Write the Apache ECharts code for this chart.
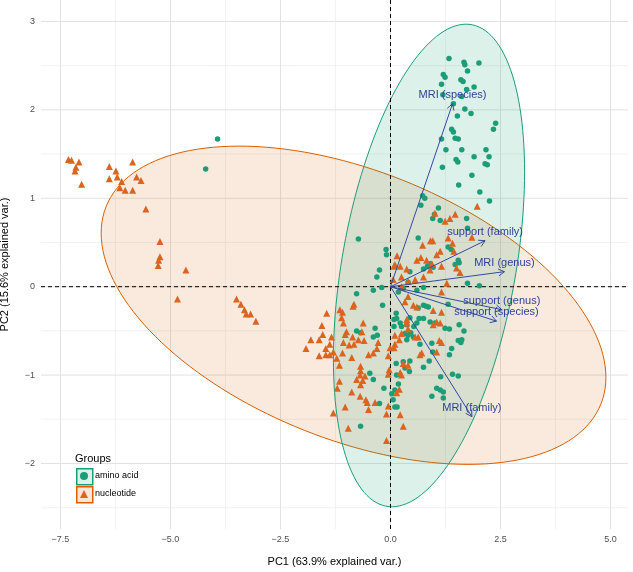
<!DOCTYPE html>
<html><head><meta charset="utf-8">
<script src="https://cdn.jsdelivr.net/npm/echarts@6/dist/echarts.min.js"></script>
<style>html,body{margin:0;padding:0;background:#fff}#chart{width:633px;height:572px}</style>
</head><body><div id="chart"></div>
<script>
// ---- data (PC1, PC2 scores) ----
const aminoAcid = [
[1.33,2.58],[1.67,2.54],[1.69,2.51],[2.01,2.53],[1.75,2.44],[1.20,2.40],[1.24,2.37],[1.60,2.34],[1.65,2.32],[1.16,2.29],[1.90,2.26],[1.73,2.23],[1.19,2.17],[1.62,2.15],[1.43,2.07],[1.69,2.01],[1.83,1.96],[1.52,1.93],[2.39,1.85],[2.34,1.78],[1.39,1.78],[1.43,1.75],[1.47,1.68],[1.54,1.67],[1.16,1.67],[1.26,1.55],[1.62,1.55],[2.17,1.55],[1.90,1.47],[2.24,1.47],[1.49,1.44],[1.53,1.41],[2.15,1.39],[2.20,1.38],[1.18,1.35],[1.85,1.26],[1.55,1.15],[2.03,1.07],[2.25,0.97],[0.78,1.00],[0.73,1.03],[0.69,0.92],[1.09,0.89],
[1.00,0.82],[0.96,0.77],[1.13,0.75],[1.73,0.77],[1.75,0.66],[0.63,0.55],[1.31,0.45],[1.38,0.42],[1.54,0.30],[1.56,0.27],[1.47,0.25],[0.84,0.23],[0.90,0.26],[0.97,0.22],[0.44,0.17],[0.75,0.20],[1.75,0.04],[2.02,0.01],[0.40,0.05],[0.29,-0.02],[0.60,-0.04],[0.75,-0.01],[0.18,-0.06],
[-0.73,0.54],[-0.10,0.42],[-0.09,0.36],[-0.25,0.19],[-0.31,0.11],[-0.39,-0.04],[-0.20,-0.01],[-0.77,-0.08],
[-3.93,1.67],[-4.20,1.33],
[-0.18,-0.21],[-0.35,-0.47],[-0.39,-0.57],[-0.30,-0.55],[-0.77,-0.50],[-0.68,-0.52],[-0.47,-0.98],[-0.39,-1.05],[-0.15,-1.15],[-0.25,-1.32],[-0.68,-1.58],[0.13,-0.30],[0.14,-0.36],[0.22,-0.41],[0.25,-0.45],[0.33,-0.53],[0.40,-0.55],[0.46,-0.52],[0.13,-0.87],[0.29,-0.85],[0.33,-0.92],[0.43,-0.96],[0.14,-1.00],[0.18,-1.10],[0.06,-1.28],[0.10,-1.36],[0.15,-1.36],[0.03,-1.21],[0.37,-0.60],[0.53,-0.45],
[0.75,-0.21],[0.81,-0.22],[0.86,-0.23],[0.63,-0.24],[1.31,-0.20],[0.44,-0.35],[0.65,-0.36],[0.75,-0.36],[0.90,-0.40],[1.01,-0.41],[0.37,-0.43],[0.60,-0.41],[1.24,-0.47],[1.34,-0.48],[1.56,-0.43],[1.67,-0.50],[0.52,-0.57],[0.67,-0.65],[0.94,-0.64],[1.62,-0.60],[1.60,-0.63],[1.54,-0.61],[1.39,-0.70],[1.34,-0.77],[0.96,-0.74],[0.88,-0.84],[0.44,-0.84],[0.75,-0.91],[1.41,-0.99],[1.54,-1.01],[1.14,-1.02],[1.05,-1.15],[1.13,-1.17],[1.20,-1.19],[0.94,-1.24],[1.20,-1.26],[0.10,-1.17],[0.08,-0.37],[0.08,-0.45]
];
const nucleotide = [
[-7.32,1.44],[-7.25,1.43],[-7.08,1.41],[-7.15,1.35],[-7.17,1.31],[-7.02,1.16],[-6.39,1.36],[-6.24,1.31],[-6.39,1.22],[-6.21,1.24],[-5.86,1.41],[-5.77,1.24],[-5.67,1.20],[-6.11,1.19],[-6.15,1.12],[-6.03,1.09],[-5.86,1.09],[-5.56,0.88],[-5.24,0.51],[-5.24,0.34],[-5.27,0.30],[-5.28,0.24],[-4.65,0.19],[-4.84,-0.14],[-3.50,-0.14],[-3.40,-0.20],[-3.32,-0.26],[-3.28,-0.31],[-3.18,-0.31],[-3.06,-0.39],
[1.97,0.91],[1.47,0.82],[1.35,0.77],[1.24,0.74],[1.01,0.83],[1.31,0.55],[0.91,0.52],[0.96,0.52],[0.73,0.47],[1.41,0.49],[1.85,0.56],[1.44,0.40],[1.13,0.40],[1.05,0.36],[0.69,0.33],[0.60,0.30],[0.82,0.30],[0.94,0.26],[1.16,0.23],[0.90,0.19],[1.50,0.21],[1.58,0.16],[0.10,0.25],[0.37,0.20],[0.25,0.11],[0.75,0.11],[0.56,0.08],[1.28,0.04],[1.16,-0.06],[0.06,0.08],[0.25,0.00],
[0.15,0.35],[0.08,0.23],[0.22,0.23],[0.40,0.06],
[-0.85,-0.22],[-0.83,-0.20],[-1.15,-0.26],[-1.09,-0.29],[-1.45,-0.30],[-1.11,-0.35],[-1.07,-0.41],[-0.62,-0.41],[-1.56,-0.44],[-1.00,-0.51],[-1.03,-0.54],[-1.54,-0.54],[-0.65,-0.51],[-1.81,-0.60],[-1.62,-0.60],[-1.34,-0.57],[-0.86,-0.57],[-0.73,-0.60],[-0.60,-0.61],[-0.28,-0.63],[-1.07,-0.63],[-0.94,-0.66],[-0.83,-0.65],[-1.38,-0.65],[-1.92,-0.70],[-1.47,-0.70],[-0.31,-0.70],[-0.39,-0.75],[-0.50,-0.77],[-1.30,-0.74],[-1.09,-0.75],[-1.62,-0.78],[-1.47,-0.77],[-1.38,-0.77],[-0.88,-0.80],[-1.22,-0.81],[-1.16,-0.89],[-0.68,-0.90],[-0.68,-0.95],[-0.77,-1.05],[-0.63,-1.06],[-0.58,-1.01],[-0.69,-1.00],[-0.68,-1.11],[-1.16,-1.07],[-1.21,-1.15],[-0.88,-1.19],[-0.69,-1.24],[-0.56,-1.28],[-0.53,-1.31],[-0.35,-1.31],[-1.03,-1.36],[-0.50,-1.39],[-1.30,-1.43],[-0.05,-1.35],[-0.09,-1.44],[-0.96,-1.60],[0.29,-1.58],[-0.09,-1.74],[0.22,-1.45],[-0.01,-0.69],[0.08,-0.69],[-0.05,-0.78],[-0.03,-0.94],[-0.05,-0.99],[0.14,-1.20],[0.20,-1.16],[0.25,-1.00],[0.40,-0.89],[0.33,-0.17],[0.40,-0.11],[0.25,-0.53],[0.37,-0.41],[0.10,-0.55],[0.63,-0.57],
[0.52,-0.21],[0.60,-0.23],[0.97,-0.27],[1.16,-0.29],[0.37,-0.37],[1.05,-0.40],[1.13,-0.41],[0.97,-0.43],[0.40,-0.48],[0.20,-0.60],[0.10,-0.65],[0.56,-0.57],[1.11,-0.61],[1.16,-0.63],[1.05,-0.74],[0.71,-0.75],[0.67,-0.77],[0.29,-0.87],[0.22,-0.97]
];
// variable loadings (arrow tips)
const varNames = ['MRI (species)','support (family)','MRI (genus)','support (genus)','support (species)','MRI (family)'];
const varPC1 = [1.41, 2.15, 2.59, 2.53, 2.41, 1.85];
const varPC2 = [2.07, 0.52, 0.17, -0.26, -0.39, -1.47];
// group ellipses: centre x, centre y, var x, var y, cov xy
const aminoEllipse = [0.875, 0.24, 4.72, 7.45, 2.3];
const nucleotideEllipse = [-0.84, -0.21, 32.9, 3.24, -4.68];
// ticks
const xTicks = [-7.5, -5, -2.5, 0, 2.5, 5];
const xMinorTicks = [-6.25, -3.75, -1.25, 1.25, 3.75];
const yTicks = [-2, -1, 0, 1, 2, 3];
const yMinorTicks = [-2.5, -1.5, -0.5, 0.5, 1.5, 2.5];

// ---- styling ----
const FONT = '"Liberation Sans", Arial, Helvetica, sans-serif';
const GREEN = '#1b9e77', ORANGE = '#da6420', ARROW = '#3349a0', LABEL = '#2c3f98';
const xMin = -7.943, xMax = 5.398, yMin = -2.741, yMax = 3.243;

function ellipsePoints(p) {
  const [cx, cy, sxx, syy, sxy] = p;
  const l11 = Math.sqrt(sxx), l21 = sxy / l11, l22 = Math.sqrt(syy - l21 * l21);
  const pts = [];
  for (let i = 0; i <= 160; i++) {
    const t = 2 * Math.PI * i / 160, u = Math.cos(t), v = Math.sin(t);
    pts.push([cx + l11 * u, cy + l21 * u + l22 * v]);
  }
  return pts;
}
const ellipses = [ellipsePoints(nucleotideEllipse), ellipsePoints(aminoEllipse)];
const ellFill = ['rgba(217,95,2,0.13)', 'rgba(27,158,119,0.15)'];
const ellStroke = ['#d95f02', GREEN];

const minus = v => (v < 0 ? '\u2212' : '') + Math.abs(v);
const gridLines = [];
xTicks.forEach(v => gridLines.push([v, 0, 'x', 1]));
xMinorTicks.forEach(v => gridLines.push([v, 0, 'x', 0.6]));
yTicks.forEach(v => gridLines.push([0, v, 'y', 1]));
yMinorTicks.forEach(v => gridLines.push([0, v, 'y', 0.6]));

const chart = echarts.init(document.getElementById('chart'), null, {renderer: 'canvas'});
chart.setOption({
  animation: false,
  backgroundColor: '#ffffff',
  textStyle: {fontFamily: FONT},
  grid: {left: 41, top: 0, width: 587, height: 529, containLabel: false, outerBoundsMode: 'none'},
  title: {text: 'Groups', left: 75, top: 453, textStyle: {fontFamily: FONT, fontSize: 11, fontWeight: 'normal', color: '#000'}, padding: 0},
  legend: {
    orient: 'vertical', left: 80, top: 467, itemWidth: 8, itemHeight: 8, itemGap: 0, padding: 0,
    data: [{name: 'amino acid', icon: 'circle'}, {name: 'nucleotide', icon: 'triangle'}],
    textStyle: {fontFamily: FONT, fontSize: 9, color: '#000', lineHeight: 18, padding: [0, 0, 0, 2]},
    selectedMode: false
  },
  xAxis: {
    type: 'value', min: xMin, max: xMax,
    name: 'PC1 (63.9% explained var.)', nameLocation: 'middle', nameGap: 27,
    nameTextStyle: {fontFamily: FONT, fontSize: 11, color: '#000'},
    axisLine: {show: false}, axisTick: {show: false}, splitLine: {show: false},
    axisLabel: {customValues: xTicks, margin: 6, fontSize: 9, color: '#4d4d4d', fontFamily: FONT,
      formatter: v => (v < 0 ? '\u2212' : '') + Math.abs(v).toFixed(1)}
  },
  yAxis: {
    type: 'value', min: yMin, max: yMax,
    name: 'PC2 (15.6% explained var.)', nameLocation: 'middle', nameGap: 31, nameRotate: 90,
    nameTextStyle: {fontFamily: FONT, fontSize: 11, color: '#000'},
    axisLine: {show: false}, axisTick: {show: false}, splitLine: {show: false},
    axisLabel: {customValues: yTicks, margin: 6, fontSize: 9, color: '#4d4d4d', fontFamily: FONT,
      formatter: v => minus(v)}
  },
  graphic: [
    {type: 'rect', left: 76, top: 468, shape: {width: 16, height: 16}, style: {fill: '#ddf0ea', stroke: GREEN, lineWidth: 1.5}, z: 1},
    {type: 'rect', left: 76, top: 486, shape: {width: 16, height: 16}, style: {fill: '#f9e6d8', stroke: '#d95f02', lineWidth: 1.5}, z: 1}
  ],
  series: [
    { // grid lines
      type: 'custom', z: 0, silent: true,
      data: gridLines.map(g => [g[0], g[1]]),
      renderItem: (params, api) => {
        const g = gridLines[params.dataIndex], cs = params.coordSys;
        const p = api.coord([g[0], g[1]]);
        const shape = g[2] === 'x'
          ? {x1: p[0], y1: cs.y, x2: p[0], y2: cs.y + cs.height}
          : {x1: cs.x, y1: p[1], x2: cs.x + cs.width, y2: p[1]};
        return {type: 'line', shape, style: {stroke: g[3] === 1 ? '#e2e2e2' : '#eaeaea', lineWidth: g[3]}};
      }
    },
    { // ellipses
      type: 'custom', z: 2, silent: true,
      data: [[0, 0], [0, 0]],
      renderItem: (params, api) => {
        const i = params.dataIndex;
        return {type: 'polygon', shape: {points: ellipses[i].map(p => api.coord(p))},
          style: {fill: ellFill[i], stroke: ellStroke[i], lineWidth: 1}};
      }
    },
    { // zero reference lines
      type: 'custom', z: 3, silent: true,
      data: [[0, 0, 0], [0, 0, 1]],
      renderItem: (params, api) => {
        const cs = params.coordSys, p = api.coord([0, 0]);
        const shape = params.dataIndex === 0
          ? {x1: p[0], y1: cs.y, x2: p[0], y2: cs.y + cs.height}
          : {x1: cs.x, y1: p[1], x2: cs.x + cs.width, y2: p[1]};
        return {type: 'line', shape, style: {stroke: '#000', lineWidth: 1, lineDash: [4, 3]}};
      }
    },
    {
      name: 'amino acid', type: 'scatter', z: 4, data: aminoAcid,
      symbol: 'circle', symbolSize: 5.5, itemStyle: {color: GREEN, opacity: 1}
    },
    {
      name: 'nucleotide', type: 'scatter', z: 4, data: nucleotide,
      symbol: 'triangle', symbolSize: 7, itemStyle: {color: ORANGE, opacity: 1}
    },
    { // loading arrows
      type: 'custom', z: 6, silent: true,
      data: varPC1.map((x, i) => [x, varPC2[i]]),
      renderItem: (params, api) => {
        const o = api.coord([0, 0]);
        const t = api.coord([api.value(0), api.value(1)]);
        const ang = Math.atan2(t[1] - o[1], t[0] - o[0]);
        const L = 7, a = Math.PI / 6;
        const h1 = [t[0] - L * Math.cos(ang - a), t[1] - L * Math.sin(ang - a)];
        const h2 = [t[0] - L * Math.cos(ang + a), t[1] - L * Math.sin(ang + a)];
        return {type: 'group', children: [
          {type: 'line', shape: {x1: o[0], y1: o[1], x2: t[0], y2: t[1]}, style: {stroke: ARROW, lineWidth: 1}},
          {type: 'polyline', shape: {points: [h1, t, h2]}, style: {stroke: ARROW, lineWidth: 1, fill: null}}
        ]};
      }
    },
    { // loading labels
      type: 'scatter', z: 7, silent: true,
      data: varPC1.map((x, i) => ({value: [x, varPC2[i]], name: varNames[i]})),
      symbolSize: 1, itemStyle: {color: 'rgba(0,0,0,0)'},
      label: {show: true, position: 'inside', offset: [0, -9], formatter: p => p.name,
        color: LABEL, opacity: 1, textBorderWidth: 0, fontSize: 11, fontFamily: FONT}
    }
  ]
});
</script></body></html>
